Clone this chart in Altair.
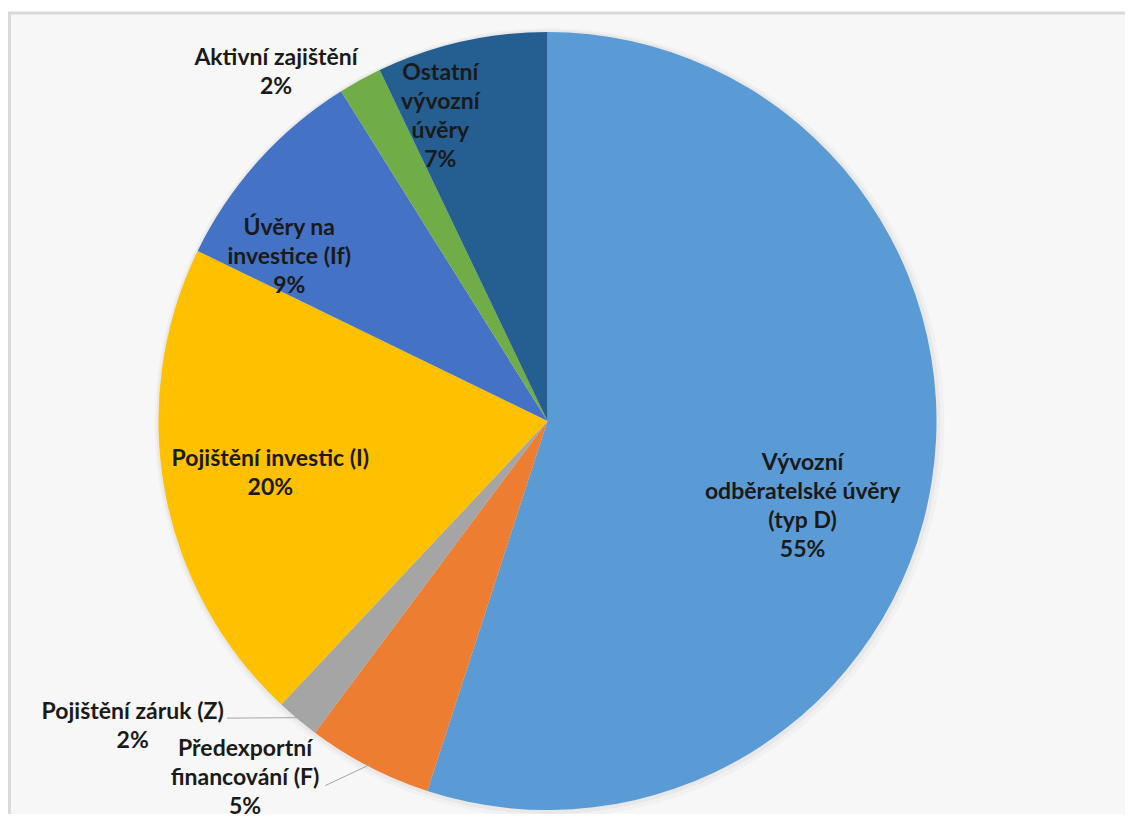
import altair as alt
import pandas as pd

# ---- data ----
categories = [
    "Vývozní odběratelské úvěry (typ D)",
    "Předexportní financování (F)",
    "Pojištění záruk (Z)",
    "Pojištění investic (I)",
    "Úvěry na investice (If)",
    "Aktivní zajištění",
    "Ostatní vývozní úvěry",
]
shares = [55.0, 5.2, 1.8, 20.2, 8.9, 1.8, 7.1]
pct_labels = ["55%", "5%", "2%", "20%", "9%", "2%", "7%"]
label_lines = [
    ["Vývozní", "odběratelské úvěry", "(typ D)"],
    ["Předexportní", "financování (F)"],
    ["Pojištění záruk (Z)"],
    ["Pojištění investic (I)"],
    ["Úvěry na", "investice (If)"],
    ["Aktivní zajištění"],
    ["Ostatní", "vývozní", "úvěry"],
]
colors = ["#5B9BD5", "#ED7D31", "#A5A5A5", "#FFC000", "#4472C4", "#70AD47", "#255E91"]

# ---- layout (label placement relative to slice middles) ----
label_radius = [269, 468, 515, 282, 306, 442, 323]
label_shift_deg = [9.5, 12.9, 13.7, -0.2, -9.5, -9.1, -6.6]
has_leader = [0, 1, 1, 0, 0, 0, 0]
leader_radius = [0, 427, 437, 0, 0, 0, 0]
leader_shift_deg = [0, 4.0, 7.2, 0, 0, 0, 0]

W, H = 1117, 806
CX, CY, R = 539.5, 413, 389
LH = 29.0

df = pd.DataFrame({
    "idx": list(range(len(categories))),
    "category": categories,
    "share": shares,
    "label": ["\n".join(l + [p]) for l, p in zip(label_lines, pct_labels)],
    "nlines": [len(l) + 1 for l in label_lines],
    "lr": label_radius,
    "lshift": label_shift_deg,
    "leader": has_leader,
    "ldr": leader_radius,
    "ldshift": leader_shift_deg,
})

color_scale = alt.Scale(domain=categories, range=colors)

base = alt.Chart(df)

frame = alt.Chart(pd.DataFrame({"a": [0]})).mark_rect(
    fill="#f7f7f7", stroke="#d9d9d9", strokeWidth=3
).encode(x=alt.value(1.5), x2=alt.value(W + 30), y=alt.value(5), y2=alt.value(H + 30))

shadow1 = base.mark_arc(outerRadius=R + 6, fill="#000000", opacity=0.025).encode(
    theta=alt.Theta("share:Q", stack=True), order=alt.Order("idx:Q"),
    x=alt.value(CX + 2), y=alt.value(CY + 2))
shadow2 = base.mark_arc(outerRadius=R + 3, fill="#000000", opacity=0.035).encode(
    theta=alt.Theta("share:Q", stack=True), order=alt.Order("idx:Q"),
    x=alt.value(CX + 1), y=alt.value(CY + 1))

pie = base.mark_arc(outerRadius=R, stroke=None).encode(
    theta=alt.Theta("share:Q", stack=True),
    color=alt.Color("category:N", scale=color_scale, legend=None),
    order=alt.Order("idx:Q"),
    x=alt.value(CX),
    y=alt.value(CY),
)

geo = base.transform_window(
    cum="sum(share)", frame=[None, 0], sort=[alt.SortField("idx")]
).transform_joinaggregate(total="sum(share)").transform_calculate(
    mid="(datum.cum - datum.share / 2) / datum.total * 2 * PI",
    ang="datum.mid + datum.lshift * PI / 180",
    lx=f"{CX} + datum.lr * sin(datum.ang)",
    ly=f"{CY} - datum.lr * cos(datum.ang) - (datum.nlines - 1) * {LH} / 2",
    lang="datum.mid + datum.ldshift * PI / 180",
    sx=f"{CX} + datum.ldr * sin(datum.lang)",
    sy=f"{CY} - datum.ldr * cos(datum.lang)",
    ex=f"{CX} + {R - 2} * sin(datum.mid)",
    ey=f"{CY} - {R - 2} * cos(datum.mid)",
)

leaders = geo.transform_filter("datum.leader == 1").mark_rule(
    color="#a6a6a6", strokeWidth=1
).encode(
    x=alt.X("sx:Q", scale=None), y=alt.Y("sy:Q", scale=None),
    x2="ex:Q", y2="ey:Q",
)

labels = geo.mark_text(
    font="Lato", fontWeight="bold", fontSize=23, color="#1a1a1a",
    lineBreak="\n", lineHeight=LH, align="center", baseline="middle",
).encode(
    x=alt.X("lx:Q", scale=None), y=alt.Y("ly:Q", scale=None), text="label:N"
)

chart = alt.layer(frame, shadow1, shadow2, pie, leaders, labels).properties(
    width=W, height=H, padding=0, autosize=alt.AutoSizeParams(type="none"),
    background="white",
).configure_view(stroke=None)

chart.save("out.html", embed_options={"renderer": "svg", "actions": False})
